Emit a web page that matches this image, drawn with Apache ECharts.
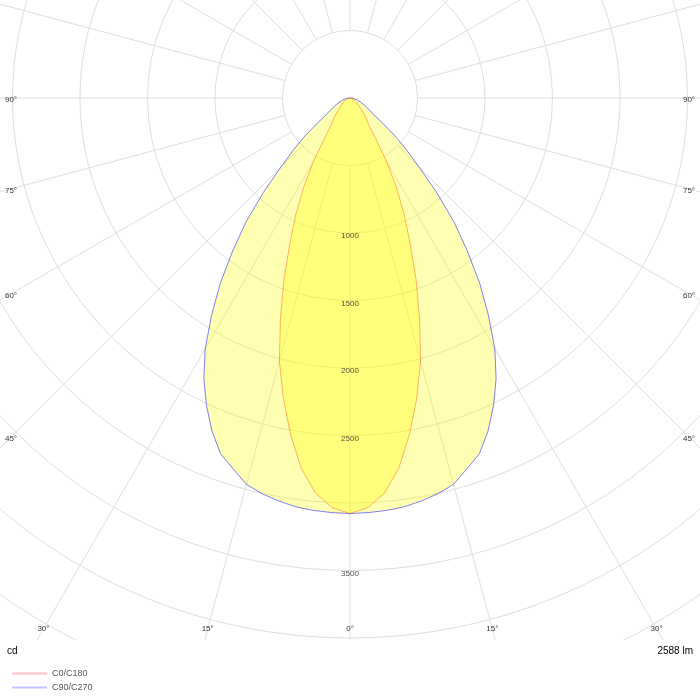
<!DOCTYPE html>
<html>
<head>
<meta charset="utf-8">
<style>
  html, body { margin: 0; padding: 0; background: #fff; }
  #chart { width: 700px; height: 700px; }
</style>
<script src="https://cdn.jsdelivr.net/npm/echarts@6/dist/echarts.min.js"></script>
</head>
<body>
<div id="chart"></div>
<script>
(function(){
  'use strict';

  /*
    data
    gamma: angle from nadir (0 = straight down), degrees
  */
  var gamma = [0, 2.5, 5, 7.5, 10, 12.5, 15, 17.5, 20, 22.5, 25, 27.5, 30, 32.5, 35, 37.5, 40, 42.5, 45,
               47.5, 50, 52.5, 55, 57.5, 60, 62.5, 65, 67.5, 70, 72.5, 75, 77.5, 80, 82.5, 85, 87.5, 90];
  var c0c180 = [3078, 3037, 2937, 2767, 2533, 2282, 2020, 1715, 1430, 1163, 946, 742, 538, 345, 240, 205, 172, 142, 115,
                95, 82, 70, 60, 54, 48, 43, 39, 35, 31, 27, 23, 20, 16, 12, 8, 4, 0];
  var c90c270 = [3078, 3074, 3067, 3055, 3032, 3003, 2963, 2880, 2804, 2671, 2515, 2344, 2145, 1909, 1675, 1427, 1200, 951, 725,
                 565, 430, 300, 215, 180, 150, 128, 108, 92, 78, 66, 55, 45, 35, 26, 17, 8, 0];
  var ringLabels  = [1000, 1500, 2000, 2500, 3500];
  var angleLabels = [0, 15, 30, 45, 60, 75, 90];
  var seriesNames = ['C0/C180', 'C90/C270'];
  var unitText = 'cd', fluxText = '2588 lm';

  var cx = 350, cy = 98,
      pxPerCd = 67.5 / 500,
      rMin = 500, rMax = 8000,
      edgeX = 339, edgeY = 531,
      labelFont = '8px "Liberation Sans", Arial, sans-serif',
      gridColor = '#dedede';

  // mirror one half-plane to both sides: right side negative, left side positive
  var curve = function(values){
    var out = [], i;
    for(i = gamma.length - 1; i >= 0; i--) { out.push([values[i], -gamma[i]]); }
    for(i = 1; i < gamma.length; i++) { out.push([values[i], gamma[i]]); }
    return out;
  };

  var angleAxisBase = function(idx){
    return {
      polarIndex: idx, type: 'value', min: -180, max: 180, interval: 15,
      startAngle: 90, clockwise: true, z: 0,
      axisLine: {show: false}, axisTick: {show: false}, axisLabel: {show: false},
      splitLine: {show: idx === 0, lineStyle: {color: gridColor, width: 1}}
    };
  };

  /*
    angle labels sit where each ray leaves the plot box
  */
  var graphics = [
    {type: 'rect', z: 3, shape: {x: 0, y: 640, width: 700, height: 60}, style: {fill: '#fff'}}
  ];
  angleLabels.forEach(function(a){
    var rad = a * Math.PI / 180, s = Math.sin(rad), c = Math.cos(rad),
        tx = s > 1e-6 ? edgeX / s : Infinity,
        ty = c > 1e-6 ? edgeY / c : Infinity,
        t = Math.min(tx, ty),
        dy = tx <= ty ? 2 : 0;
    (a === 0 ? [1] : [-1, 1]).forEach(function(dir){
      graphics.push({
        type: 'text', z: 4,
        style: {
          text: a + '°', x: cx + dir * t * s, y: cy + t * c + dy,
          align: 'center', verticalAlign: 'middle', font: labelFont, fill: '#333'
        }
      });
    });
  });
  graphics.push({type: 'text', z: 4, style: {text: unitText, x: 7, y: 651, verticalAlign: 'middle',
    font: '10px "Liberation Sans", Arial, sans-serif', fill: '#000'}});
  graphics.push({type: 'text', z: 4, style: {text: fluxText, x: 693, y: 651, align: 'right', verticalAlign: 'middle',
    font: '10px "Liberation Sans", Arial, sans-serif', fill: '#000'}});

  var option = {
    animation: false,
    backgroundColor: '#fff',
    polar: [
      {center: [cx, cy], radius: [rMin * pxPerCd, rMax * pxPerCd]},
      {center: [cx, cy], radius: [0, rMax * pxPerCd]}
    ],
    angleAxis: [angleAxisBase(0), angleAxisBase(1)],
    radiusAxis: [{
      polarIndex: 0, type: 'value', min: rMin, max: rMax, interval: 500, z: 0,
      axisLine: {show: false}, axisTick: {show: false}, axisLabel: {show: false},
      splitLine: {show: true, lineStyle: {color: gridColor, width: 1}}
    }, {
      polarIndex: 1, type: 'value', min: 0, max: rMax,
      axisLine: {show: false}, axisTick: {show: false}, axisLabel: {show: false},
      splitLine: {show: false}
    }],
    legend: {
      orient: 'vertical', left: 7, top: 664, itemWidth: 35, itemHeight: 2, itemGap: 5,
      selectedMode: false, z: 10, icon: 'rect',
      textStyle: {fontSize: 9, color: '#555', fontFamily: 'Liberation Sans'},
      data: [
        {name: seriesNames[0], itemStyle: {color: '#ffc2c2'}},
        {name: seriesNames[1], itemStyle: {color: '#c2c2ff'}}
      ]
    },
    series: [{
      name: seriesNames[1], type: 'line', coordinateSystem: 'polar', polarIndex: 1,
      symbol: 'none', z: 2,
      lineStyle: {color: 'rgba(0,0,255,0.5)', width: 1},
      itemStyle: {color: 'rgba(0,0,255,0.5)'},
      areaStyle: {color: 'rgba(255,255,0,0.3)', opacity: 1},
      data: curve(c90c270)
    }, {
      name: seriesNames[0], type: 'line', coordinateSystem: 'polar', polarIndex: 1,
      symbol: 'none', z: 2,
      lineStyle: {color: 'rgba(255,60,0,0.4)', width: 1},
      itemStyle: {color: 'rgba(255,60,0,0.4)'},
      areaStyle: {color: 'rgba(255,255,0,0.3)', opacity: 1},
      data: curve(c0c180)
    }, {
      type: 'scatter', coordinateSystem: 'polar', polarIndex: 0, z: 3,
      symbolSize: 1, itemStyle: {color: 'transparent'}, silent: true,
      label: {
        show: true, position: 'inside', offset: [0, 3],
        fontSize: 8, color: '#222', fontFamily: 'Liberation Sans',
        formatter: function(p){ return p.value[0]; }
      },
      data: ringLabels.map(function(v){ return [v, 0]; })
    }],
    graphic: graphics
  };

  echarts.init(document.getElementById('chart')).setOption(option);
})();
</script>
</body>
</html>
